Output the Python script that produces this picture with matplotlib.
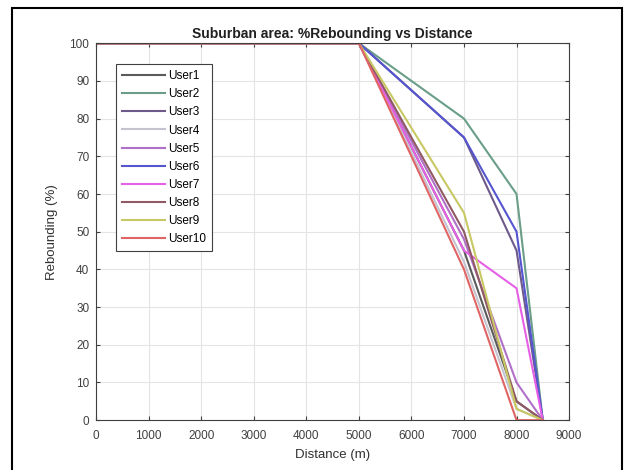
import matplotlib
matplotlib.use("Agg")
import matplotlib.pyplot as plt
from matplotlib.patches import Rectangle

plt.rcParams["font.family"] = ["Liberation Sans", "DejaVu Sans"]

distance = [0, 1000, 2000, 3000, 4000, 5000, 7000, 8000, 8500]
users = ["User1", "User2", "User3", "User4", "User5",
         "User6", "User7", "User8", "User9", "User10"]
head = [100, 100, 100, 100, 100, 100]
rebound = {
    "User1": head + [45, 5, 0],
    "User2": head + [80, 60, 0],
    "User3": head + [75, 45, 0],
    "User4": head + [42, 3, 0],
    "User5": head + [48, 10, 0],
    "User6": head + [75, 50, 0],
    "User7": head + [45, 35, 0],
    "User8": head + [50, 5, 0],
    "User9": head + [55, 3, 0],
    "User10": head + [40, 0, 0],
}
colors = ["#5a5a5a", "#6a9e88", "#6e5a8a", "#c4c4d0", "#b070c8",
          "#5555d0", "#e660e6", "#905a64", "#c8c864", "#e06464"]

fig = plt.figure(figsize=(6.33, 4.70), dpi=100)
ax = fig.add_axes([0.152, 0.106, 0.747, 0.802])

for name, c in zip(users, colors):
    ax.plot(distance, rebound[name], color=c, lw=1.5, label=name)

ax.set_xlim(0, 9000)
ax.set_ylim(0, 100)
ax.set_xticks(range(0, 9001, 1000))
ax.set_yticks(range(0, 101, 10))
ax.grid(True, color="#e4e4e4", lw=0.8)
ax.tick_params(direction="in", labelsize=8.5, labelcolor="#404040", color="#404040",
               top=True, right=True, length=3)
ax.tick_params(axis="x", pad=7)
ax.tick_params(axis="y", pad=5)
for s in ax.spines.values():
    s.set_color("#404040")
ax.set_xlabel("Distance (m)", fontsize=9.5, color="#303030", labelpad=5)
ax.set_ylabel("Rebounding (%)", fontsize=9.5, color="#303030", labelpad=8)
ax.set_title("Suburban area: %Rebounding vs Distance", fontsize=10,
             fontweight="bold", color="#202020", pad=4)

leg = ax.legend(loc="upper left", bbox_to_anchor=(0.03, 0.96), fontsize=8.5,
                fancybox=False, edgecolor="#404040", framealpha=1,
                handlelength=3.6, handletextpad=0.3, labelspacing=0.52,
                borderpad=0.5)
leg.get_frame().set_linewidth(0.8)

fig.patches.append(Rectangle((0.019, -0.01), 0.964, 0.993, transform=fig.transFigure,
                             fill=False, edgecolor="black", lw=1.5))

fig.savefig("out.png", dpi=100)
